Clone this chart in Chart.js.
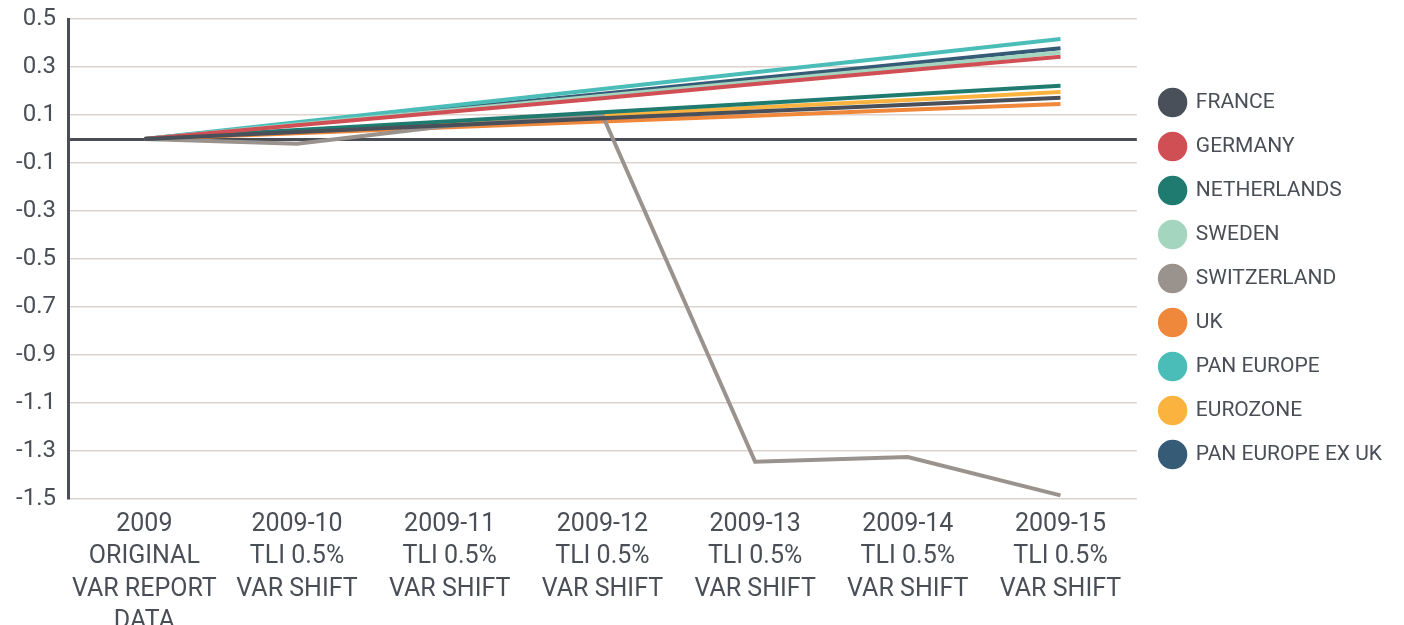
<!DOCTYPE html>
<html>
<head>
<meta charset="utf-8">
<script src="https://cdn.jsdelivr.net/npm/chart.js@4.4.1/dist/chart.umd.min.js"></script>
<style>
  html, body { margin: 0; padding: 0; background: #fff; overflow: hidden; }
  #wrap { width: 1404px; height: 645px; position: relative; }
</style>
</head>
<body>
<div id="wrap"><canvas id="varChart"></canvas></div>
<script>
// Categories (multi-line x labels)
const categories = [
    ['2009', 'ORIGINAL', 'VAR REPORT', 'DATA'],
    ['2009-10', 'TLI 0.5%', 'VAR SHIFT'],
    ['2009-11', 'TLI 0.5%', 'VAR SHIFT'],
    ['2009-12', 'TLI 0.5%', 'VAR SHIFT'],
    ['2009-13', 'TLI 0.5%', 'VAR SHIFT'],
    ['2009-14', 'TLI 0.5%', 'VAR SHIFT'],
    ['2009-15', 'TLI 0.5%', 'VAR SHIFT']
];

// Series values
const france        = [0, 0.029, 0.057, 0.086, 0.115, 0.143, 0.172];
const germany       = [0, 0.057, 0.114, 0.170, 0.229, 0.286, 0.343];
const netherlands   = [0, 0.037, 0.074, 0.111, 0.148, 0.185, 0.222];
const sweden        = [0, 0.060, 0.120, 0.180, 0.240, 0.300, 0.360];
const switzerland   = [0, -0.020, 0.055, 0.100, -1.345, -1.325, -1.485];
const uk            = [0, 0.024, 0.049, 0.073, 0.097, 0.122, 0.146];
const panEurope     = [0, 0.070, 0.139, 0.208, 0.278, 0.347, 0.417];
const eurozone      = [0, 0.033, 0.065, 0.098, 0.131, 0.163, 0.196];
const panEuropeExUk = [0, 0.063, 0.126, 0.189, 0.252, 0.315, 0.378];

// Y axis tick labels
const yTicks = [0.5, 0.3, 0.1, -0.1, -0.3, -0.5, -0.7, -0.9, -1.1, -1.3, -1.5];

const textColor = '#4a4f57';
const gridColor = '#ddd4cd';

const series = [
    { label: 'FRANCE', data: france, color: '#4a5059' },
    { label: 'GERMANY', data: germany, color: '#d04f55' },
    { label: 'NETHERLANDS', data: netherlands, color: '#1f7b70' },
    { label: 'SWEDEN', data: sweden, color: '#a3d5bf' },
    { label: 'SWITZERLAND', data: switzerland, color: '#9a928c' },
    { label: 'UK', data: uk, color: '#f0883c' },
    { label: 'PAN EUROPE', data: panEurope, color: '#4bbdb9' },
    { label: 'EUROZONE', data: eurozone, color: '#fbb33f' },
    { label: 'PAN EUROPE EX UK', data: panEuropeExUk, color: '#365b76' }
];

const ctx = document.getElementById('varChart');

new Chart(ctx, {
    type: 'line',
    data: {
        labels: categories,
        datasets: series.map(s => ({
            label: s.label,
            data: s.data,
            borderColor: s.color,
            backgroundColor: s.color,
            borderWidth: 4,
            pointRadius: 0,
            pointHoverRadius: 0,
            tension: 0,
            fill: false
        }))
    },
    options: {
        responsive: true,
        maintainAspectRatio: false,
        animation: false,
        layout: {
            padding: { top: 19, right: 12, bottom: 0, left: 0 }
        },
        plugins: {
            tooltip: { enabled: false },
            legend: {
                position: 'right',
                align: 'start',
                // blank title used as a spacer to push the items down
                title: {
                    display: true,
                    text: ' ',
                    font: { size: 10, lineHeight: 1.2 },
                    padding: { top: 38, bottom: 0 }
                },
                labels: {
                    usePointStyle: true,
                    pointStyle: 'circle',
                    pointStyleWidth: 25.5,
                    boxHeight: 18,
                    padding: 23,
                    color: textColor,
                    font: { family: 'Roboto', size: 21 }
                }
            }
        },
        scales: {
            x: {
                offset: true,
                grid: { display: false, drawTicks: false },
                border: { display: false },
                ticks: {
                    color: textColor,
                    font: { family: 'Roboto', size: 25, lineHeight: 1.3 },
                    maxRotation: 0,
                    autoSkip: false,
                    padding: 9
                },
                afterFit: (scale) => { scale.height = 146; }
            },
            y: {
                min: -1.5,
                max: 0.5,
                afterBuildTicks: (scale) => {
                    // odd-tenth ticks plus a zero baseline
                    scale.ticks = yTicks.concat([0]).map(v => ({ value: v }));
                },
                afterFit: (scale) => {
                    scale.width = 68;
                    scale.paddingTop = 0;
                    scale.paddingBottom = 0;
                },
                grid: {
                    drawTicks: false,
                    color: (c) => c.tick && c.tick.value === 0 ? textColor : gridColor,
                    lineWidth: (c) => c.tick && c.tick.value === 0 ? 3 : 1.5
                },
                border: { color: textColor, width: 3 },
                ticks: {
                    color: textColor,
                    padding: 12,
                    font: { family: 'Roboto', size: 24 },
                    callback: (v) => v === 0 ? '' : v.toFixed(1)
                }
            }
        }
    }
});
</script>
</body>
</html>
